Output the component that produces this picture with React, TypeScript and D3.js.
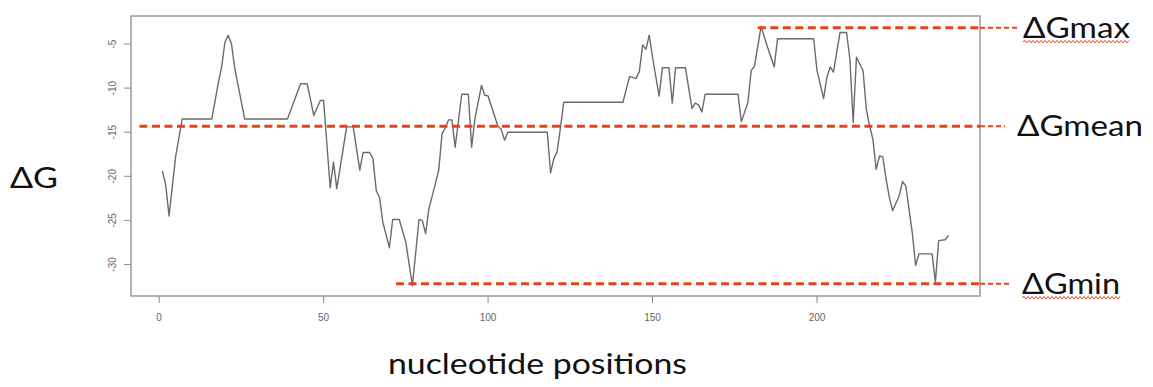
import React from "react";
import * as d3 from "d3";

// Folding free energy along the sequence (vertices of the profile)
const positions = [
  1, 2, 3, 5, 7, 16, 18, 19, 20, 21, 22, 23, 26, 39, 43, 45, 47, 49, 50, 52,
  53, 54, 57, 59, 61, 62, 64, 65, 66, 67, 68, 70, 71, 73, 75, 77, 79, 80, 81, 82,
  84, 85, 86, 87, 88, 89, 90, 92, 94, 95, 96, 98, 99, 100, 102, 103, 104, 105, 106, 118,
  119, 120, 121, 122, 123, 141, 143, 145, 146, 147, 148, 149, 150, 152, 153, 155, 156, 157, 160, 162,
  163, 164, 165, 166, 176, 177, 179, 180, 181, 183, 185, 187, 188, 199, 200, 202, 203, 204, 205, 207,
  209, 210, 211, 212, 214, 215, 216, 217, 218, 219, 220, 221, 222, 223, 225, 226, 227, 229, 230, 231,
  235, 236, 237, 239, 240,
];
const dG = [
  -19.4, -21.0, -24.5, -17.8, -13.5, -13.5, -9.4, -7.6, -4.8, -4.0, -5.0, -7.8, -13.5, -13.5, -9.5, -9.5, -13.1, -11.4, -11.4, -21.3,
  -18.4, -21.4, -14.4, -14.4, -19.3, -17.3, -17.3, -18.0, -21.6, -22.4, -25.2, -28.1, -24.9, -24.9, -27.5, -32.4, -24.9, -25.0, -26.5, -23.7,
  -20.8, -19.3, -15.2, -14.5, -13.6, -13.6, -16.7, -10.7, -10.7, -16.7, -13.5, -9.7, -10.8, -10.9, -13.2, -14.3, -14.7, -15.9, -15.0, -15.0,
  -19.6, -18.0, -17.2, -14.5, -11.6, -11.6, -8.7, -8.9, -8.1, -5.1, -5.6, -4.0, -6.5, -10.9, -7.7, -7.7, -11.7, -7.7, -7.7, -12.3,
  -11.7, -11.9, -12.7, -10.7, -10.7, -13.8, -11.6, -8.0, -7.5, -3.0, -5.4, -7.6, -4.4, -4.4, -8.0, -11.2, -8.8, -7.6, -8.2, -3.7,
  -3.7, -6.7, -13.9, -6.5, -8.0, -12.4, -14.3, -15.8, -19.2, -17.7, -17.8, -20.3, -22.4, -23.9, -22.2, -20.6, -21.1, -26.5, -30.1, -28.8,
  -28.8, -32.0, -27.3, -27.2, -26.7,
];

const xTicks = [0, 50, 100, 150, 200];
const yTicks = [-30, -25, -20, -15, -10, -5];

// Reference levels marked over the profile
const refLabels = ["ΔGmax", "ΔGmean", "ΔGmin"];
const refValues = [-3.15, -14.34, -32.18];
const refStarts = [182, -6, 72];
const refSpellMark = [true, false, true];

const W = 1153;
const H = 387;
const plot = { left: 131, right: 980, top: 16, bottom: 296 };
const refEnds = [1017, 1005, 1012];
const refLabelX = [1023, 1017, 1022];
const refLabelW = [107, 126, 98];
const RED = "#E5431E";

function pad(ext: [number, number]): [number, number] {
  const r = ext[1] - ext[0];
  return [ext[0] - 0.04 * r, ext[1] + 0.04 * r];
}

function wavy(x0: number, x1: number, y: number): string {
  const p = d3.path();
  p.moveTo(x0, y);
  let up = true;
  for (let x = x0 + 2; x <= x1; x += 2) {
    p.lineTo(x, y + (up ? -1.2 : 1.2));
    up = !up;
  }
  return p.toString();
}

export default function App() {
  const x = d3
    .scaleLinear()
    .domain(pad(d3.extent(positions) as [number, number]))
    .range([plot.left, plot.right]);
  const y = d3
    .scaleLinear()
    .domain(pad(d3.extent(dG) as [number, number]))
    .range([plot.bottom, plot.top]);

  const line = d3
    .line<number>()
    .x((_, i) => x(positions[i]))
    .y((d) => y(d));

  const labelFont = "Lato, 'Open Sans', sans-serif";
  const tickFont = "'Liberation Sans Narrow', 'Liberation Sans', Arial, sans-serif";

  return (
    <svg
      width={W}
      height={H}
      style={{ position: "absolute", left: 0, top: 0, background: "#fff" }}
    >
      <rect x={0} y={0} width={W} height={H} fill="#fff" />

      {/* plot frame */}
      <rect
        x={plot.left}
        y={plot.top}
        width={plot.right - plot.left}
        height={plot.bottom - plot.top}
        fill="none"
        stroke="#9a9a9a"
        strokeWidth={1.5}
      />

      {/* x axis */}
      {xTicks.map((t) => (
        <g key={"x" + t}>
          <line x1={x(t)} x2={x(t)} y1={plot.bottom} y2={plot.bottom + 7} stroke="#8a8a8a" strokeWidth={1} />
          <text
            x={x(t)}
            y={plot.bottom + 25}
            textAnchor="middle"
            fontSize={10}
            fontFamily={tickFont}
            fill="#666"
          >
            {t}
          </text>
        </g>
      ))}

      {/* y axis */}
      {yTicks.map((t) => (
        <g key={"y" + t}>
          <line x1={plot.left - 7} x2={plot.left} y1={y(t)} y2={y(t)} stroke="#8a8a8a" strokeWidth={1} />
          <text
            transform={`translate(${plot.left - 15},${y(t)}) rotate(-90)`}
            textAnchor="middle"
            fontSize={10}
            fontFamily={tickFont}
            fill="#666"
          >
            {t}
          </text>
        </g>
      ))}

      {/* profile */}
      <path d={line(dG) ?? ""} fill="none" stroke="#6b6b6b" strokeWidth={1.4} strokeLinejoin="round" />

      {/* reference levels */}
      {refValues.map((v, i) => (
        <g key={"ref" + i}>
          <line
            x1={x(refStarts[i])}
            x2={plot.right}
            y1={y(v)}
            y2={y(v)}
            stroke={RED}
            strokeWidth={3}
            strokeDasharray="8 4.5"
          />
          <line
            x1={plot.right}
            x2={refEnds[i]}
            y1={y(v)}
            y2={y(v)}
            stroke={RED}
            strokeWidth={2}
            strokeDasharray="5 3"
          />
          <text
            x={refLabelX[i]}
            y={y(v) + 10}
            fontSize={28}
            fontFamily={labelFont}
            fill="#111"
            textLength={refLabelW[i]}
            lengthAdjust="spacingAndGlyphs"
          >
            {refLabels[i]}
          </text>
          {refSpellMark[i] && (
            <path
              d={wavy(refLabelX[i], refLabelX[i] + refLabelW[i], y(v) + 14)}
              fill="none"
              stroke={RED}
              strokeWidth={1}
            />
          )}
        </g>
      ))}

      {/* axis titles */}
      <text
        x={10}
        y={188}
        fontSize={28}
        fontFamily={labelFont}
        fill="#111"
        textLength={48}
        lengthAdjust="spacingAndGlyphs"
      >
        ΔG
      </text>
      <text
        x={388}
        y={374}
        fontSize={28}
        fontFamily={labelFont}
        fill="#111"
        textLength={299}
        lengthAdjust="spacingAndGlyphs"
      >
        nucleotide positions
      </text>
    </svg>
  );
}
